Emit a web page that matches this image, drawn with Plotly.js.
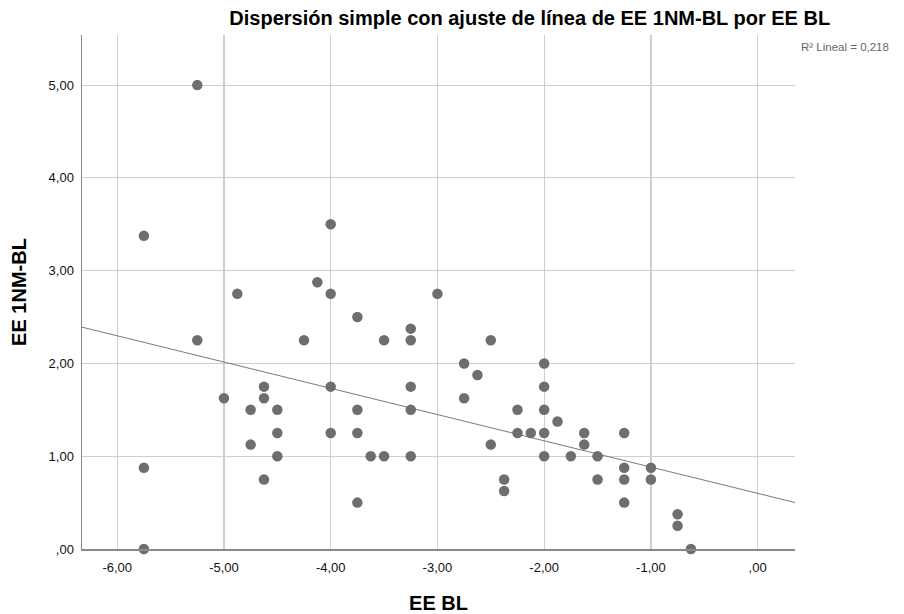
<!DOCTYPE html>
<html>
<head>
<meta charset="utf-8">
<script src="https://cdn.plot.ly/plotly-3.0.1.min.js"></script>
<style>html,body{margin:0;padding:0;background:#fff;}#chart{width:904px;height:614px;}</style>
</head>
<body>
<div id="chart"></div>
<script>
// EE BL (x) and EE 1NM-BL (y) values
const eeBL = [
  -5.75,-5.75,-5.75,
  -5.25,-5.25,
  -5.0,
  -4.875,
  -4.75,-4.75,
  -4.625,-4.625,-4.625,
  -4.5,-4.5,-4.5,
  -4.25,
  -4.125,
  -4.0,-4.0,-4.0,-4.0,
  -3.75,-3.75,-3.75,-3.75,
  -3.625,
  -3.5,-3.5,
  -3.25,-3.25,-3.25,-3.25,-3.25,
  -3.0,
  -2.75,-2.75,
  -2.625,
  -2.5,-2.5,
  -2.375,-2.375,
  -2.25,-2.25,
  -2.125,
  -2.0,-2.0,-2.0,-2.0,-2.0,
  -1.875,
  -1.75,
  -1.625,-1.625,
  -1.5,-1.5,
  -1.25,-1.25,-1.25,-1.25,
  -1.0,-1.0,
  -0.75,-0.75,
  -0.625
];
const ee1NMBL = [
  3.375,0.875,0.0,
  5.0,2.25,
  1.625,
  2.75,
  1.5,1.125,
  1.75,1.625,0.75,
  1.5,1.25,1.0,
  2.25,
  2.875,
  3.5,2.75,1.75,1.25,
  2.5,1.5,1.25,0.5,
  1.0,
  2.25,1.0,
  2.375,2.25,1.75,1.5,1.0,
  2.75,
  2.0,1.625,
  1.875,
  2.25,1.125,
  0.75,0.625,
  1.5,1.25,
  1.25,
  2.0,1.75,1.5,1.25,1.0,
  1.375,
  1.0,
  1.25,1.125,
  1.0,0.75,
  1.25,0.875,0.75,0.5,
  0.875,0.75,
  0.375,0.25,
  0.0
];
// Linear fit
const fitIntercept = 0.60;
const fitSlope = -0.283;
const fitX = [-6.33, 0.35];
const fitY = fitX.map(x => fitIntercept + fitSlope * x);

const xTickVals = [-6,-5,-4,-3,-2,-1,0];
const xTickText = ['-6,00','-5,00','-4,00','-3,00','-2,00','-1,00',',00'];
const yTickVals = [0,1,2,3,4,5];
const yTickText = [',00','1,00','2,00','3,00','4,00','5,00'];
const r2Text = 'R² Lineal = 0,218';

const traces = [
  {x: fitX, y: fitY, mode: 'lines', type: 'scatter', line: {color: '#7a7a7a', width: 1}, hoverinfo: 'skip'},
  {x: eeBL, y: ee1NMBL, mode: 'markers', type: 'scatter', marker: {color: '#6e6e6e', size: 10.5}, cliponaxis: false}
];

const FONT = 'Liberation Sans, Arial, sans-serif';
const layout = {
  width: 904, height: 614,
  margin: {l: 82, r: 109, t: 35, b: 65},
  paper_bgcolor: '#fff', plot_bgcolor: '#fff',
  showlegend: false,
  font: {family: FONT, color: '#000', size: 13},
  title: {text: 'Dispersión simple con ajuste de línea de EE 1NM-BL por EE BL', font: {size: 20, weight: 'bold', family: FONT, color: '#000'}, x: 0.586, xanchor: 'center', y: 0.971, yanchor: 'middle'},
  xaxis: {
    range: [-6.33, 0.35], tickvals: xTickVals, ticktext: xTickText,
    showgrid: true, gridcolor: '#cfcfcf', gridwidth: 1.2, zeroline: false,
    showline: true, linecolor: '#8a8a8a', linewidth: 1.5, mirror: false,
    ticks: 'outside', ticklen: 6, tickcolor: 'rgba(0,0,0,0)', tickfont: {size: 13, color: '#111'},
    title: {text: 'EE BL', font: {size: 20, weight: 'bold', color: '#000'}, standoff: 22}
  },
  yaxis: {
    range: [0, 5.54], tickvals: yTickVals, ticktext: yTickText,
    showgrid: true, gridcolor: '#cfcfcf', gridwidth: 1.2, zeroline: false,
    showline: true, linecolor: '#8a8a8a', linewidth: 1.5,
    ticks: 'outside', ticklen: 4, tickcolor: 'rgba(0,0,0,0)', tickfont: {size: 13, color: '#111'},
    title: {text: 'EE 1NM-BL', font: {size: 20, weight: 'bold', color: '#000'}, standoff: 16}
  },
  annotations: [
    {text: r2Text, xref: 'paper', yref: 'paper', x: 1.006, y: 0.977, xanchor: 'left', yanchor: 'middle', showarrow: false, font: {size: 11.5, color: '#666'}}
  ]
};

Plotly.newPlot('chart', traces, layout, {displayModeBar: false, staticPlot: true});
</script>
</body>
</html>
